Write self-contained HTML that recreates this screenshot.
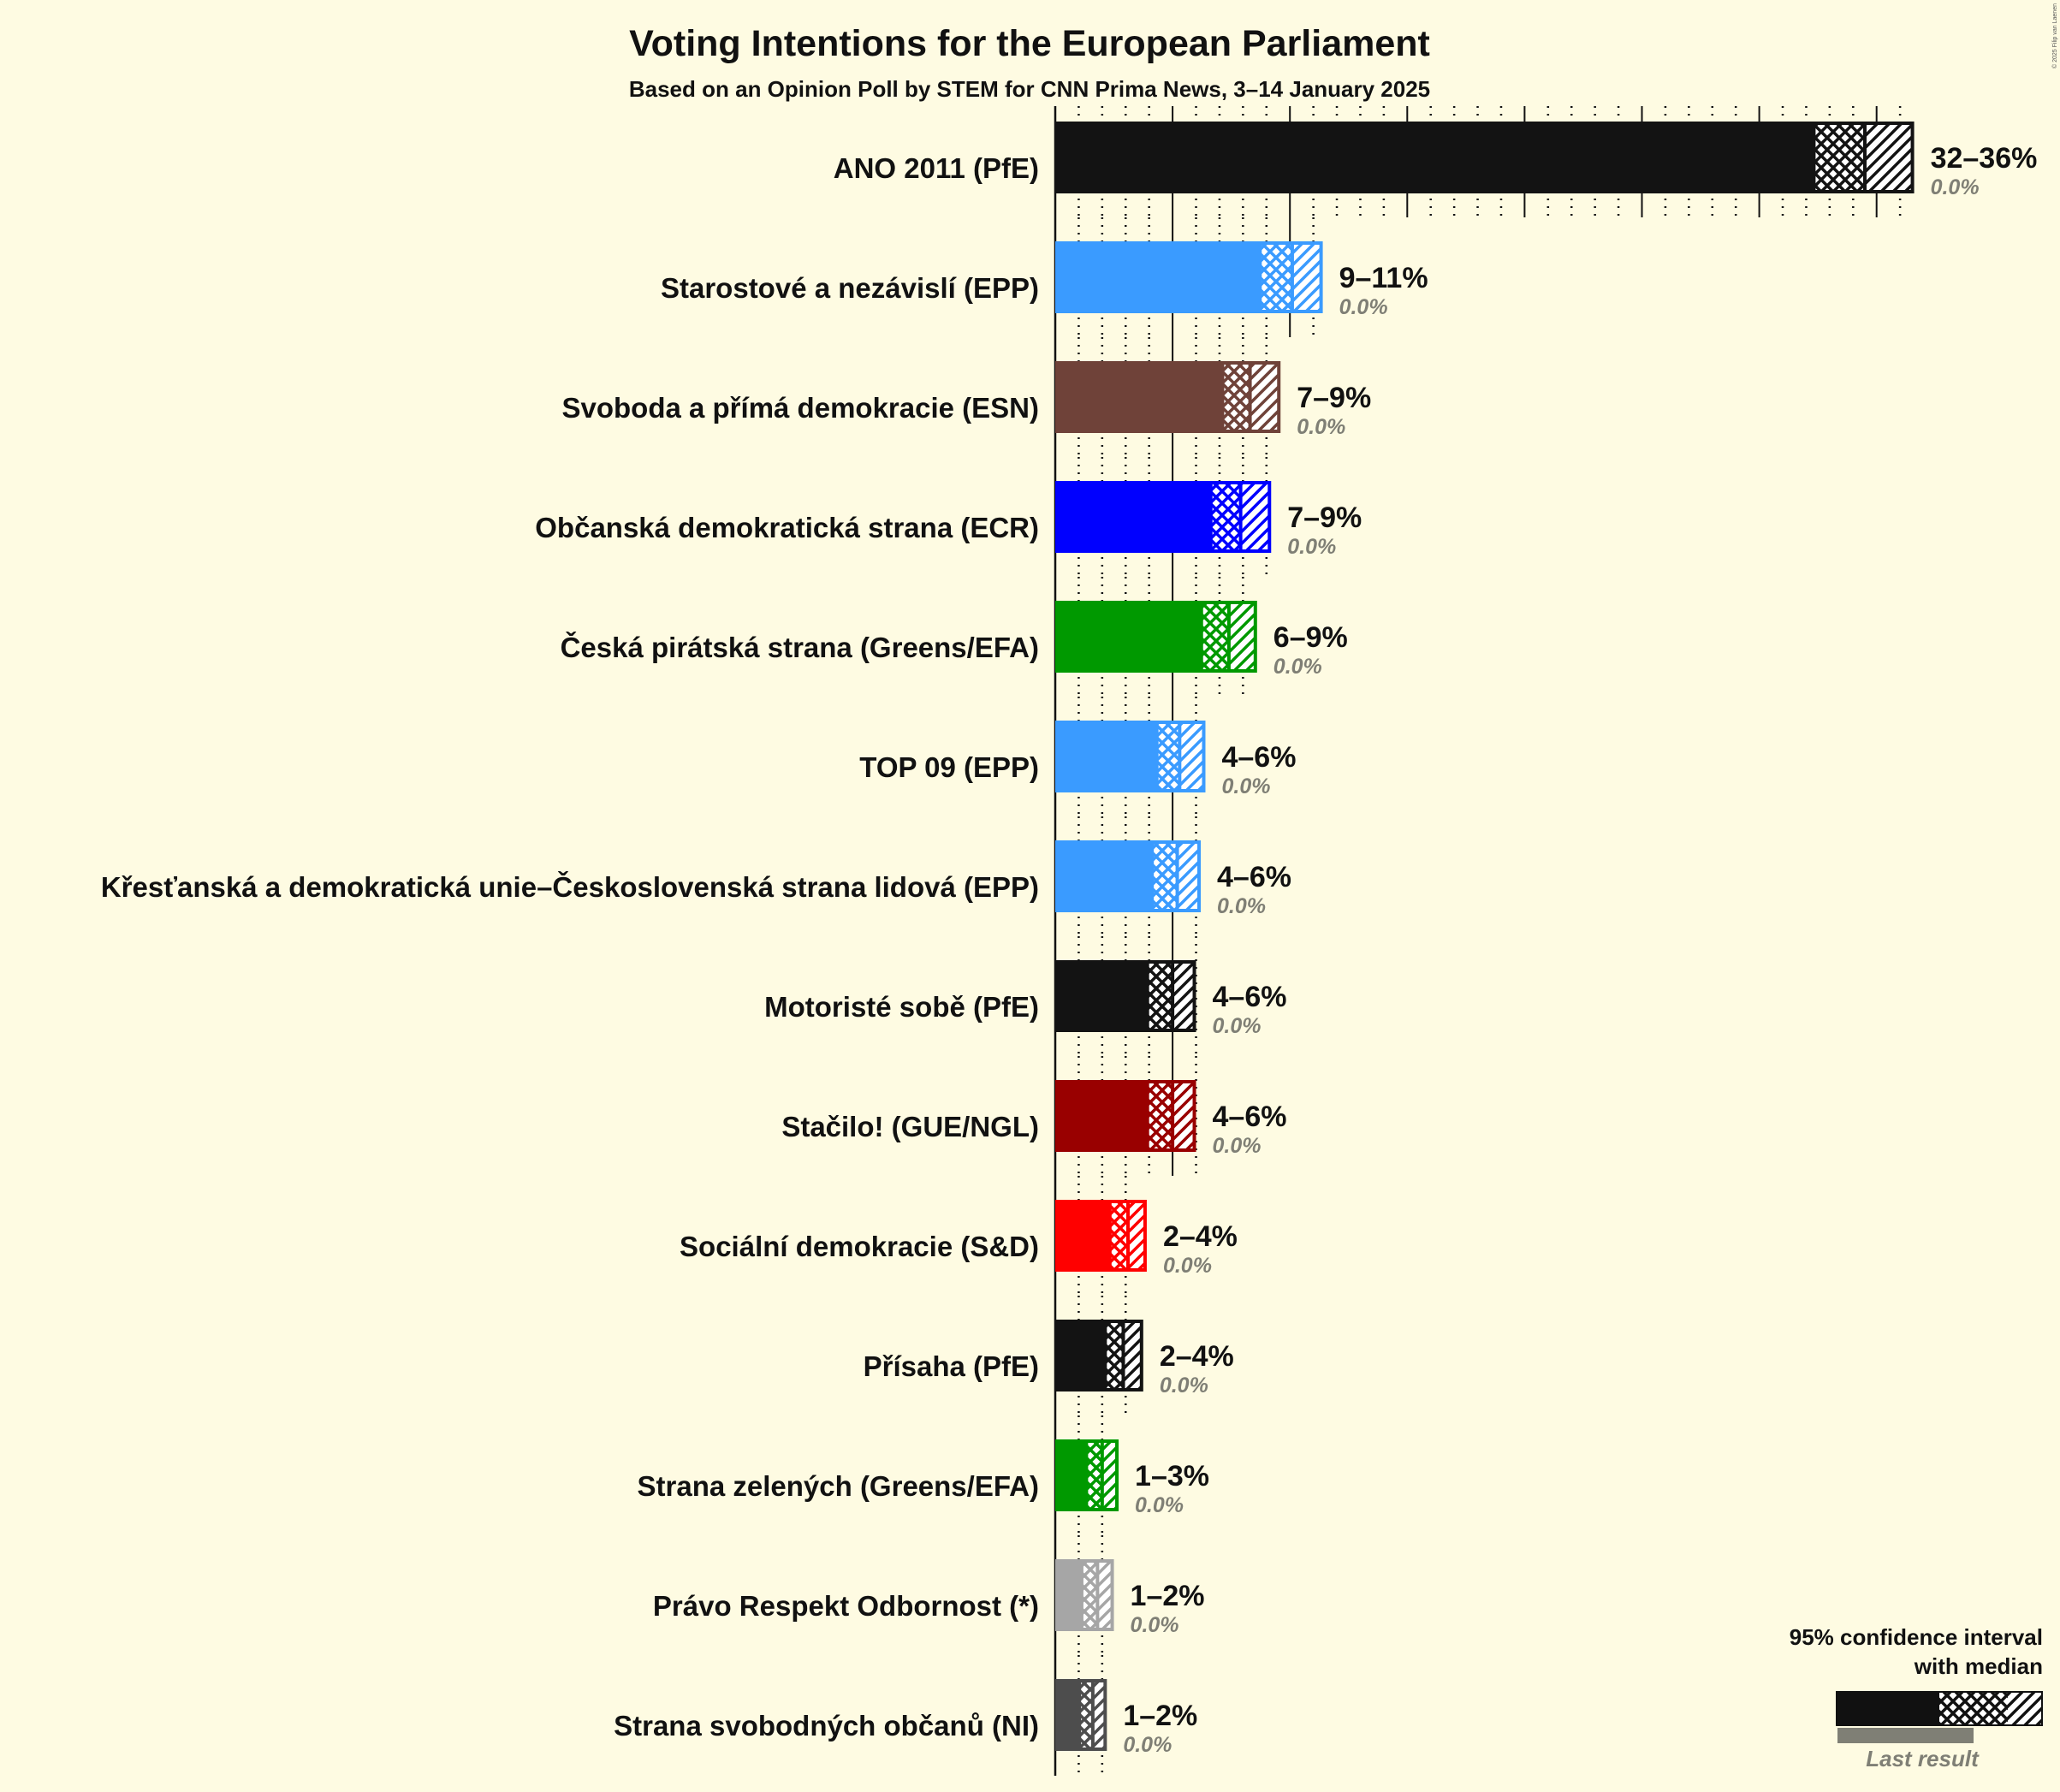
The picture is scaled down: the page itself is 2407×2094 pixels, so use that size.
<!DOCTYPE html>
<html><head><meta charset="utf-8"><style>
body{margin:0;background:#FEFBE2;}
svg{display:block;font-family:"Liberation Sans",sans-serif;}
</style></head><body>
<svg id="chart" width="2407" height="2094" viewBox="0 0 2407 2094" xmlns="http://www.w3.org/2000/svg">
<rect width="2407" height="2094" fill="#FEFBE2"/>
<defs id="defs"></defs>
<text x="1203" y="65" text-anchor="middle" font-size="43" font-weight="bold" fill="#111">Voting Intentions for the European Parliament</text>
<text x="1203" y="113" text-anchor="middle" font-size="26" font-weight="bold" fill="#111">Based on an Opinion Poll by STEM for CNN Prima News, 3–14 January 2025</text>
<text x="2403" y="4" transform="rotate(-90 2403 4)" text-anchor="end" font-size="7" fill="#555">© 2025 Filip van Laenen</text>
<g id="grid"></g>
<g id="bars"></g>
<g>
<text x="2387" y="1922" text-anchor="end" font-size="26" font-weight="bold" fill="#111">95% confidence interval</text>
<text x="2387" y="1956" text-anchor="end" font-size="26" font-weight="bold" fill="#111">with median</text>
<rect x="2147" y="2019" width="159" height="18" fill="#7F7F75"/>
<rect x="2145" y="1976" width="242" height="41" fill="#111"/>
<rect x="2266" y="1978" width="80" height="37" fill="url(#cross-111)"/>
<rect x="2346" y="1978" width="39" height="37" fill="url(#diag-111)"/>
<text x="2246" y="2064" text-anchor="middle" font-size="26" font-style="italic" font-weight="bold" fill="#7F7F75">Last result</text>
</g>
</svg>
<script>
const parties = ["ANO 2011 (PfE)","Starostové a nezávislí (EPP)","Svoboda a přímá demokracie (ESN)","Občanská demokratická strana (ECR)","Česká pirátská strana (Greens/EFA)","TOP 09 (EPP)","Křesťanská a demokratická unie–Československá strana lidová (EPP)","Motoristé sobě (PfE)","Stačilo! (GUE/NGL)","Sociální demokracie (S&D)","Přísaha (PfE)","Strana zelených (Greens/EFA)","Právo Respekt Odbornost (*)","Strana svobodných občanů (NI)"];
const lowValues = [32.4,8.8,7.2,6.7,6.3,4.4,4.2,4.0,4.0,2.4,2.2,1.4,1.2,1.1];
const medianValues = [34.5,10.1,8.3,7.9,7.4,5.3,5.2,5.0,5.0,3.1,2.9,2.0,1.8,1.6];
const highValues = [36.6,11.4,9.6,9.2,8.6,6.4,6.2,6.0,6.0,3.9,3.75,2.7,2.5,2.2];
const rangeLabels = ["32–36%","9–11%","7–9%","7–9%","6–9%","4–6%","4–6%","4–6%","4–6%","2–4%","2–4%","1–3%","1–2%","1–2%"];
const lastResults = ["0.0%","0.0%","0.0%","0.0%","0.0%","0.0%","0.0%","0.0%","0.0%","0.0%","0.0%","0.0%","0.0%","0.0%"];
const colors = ["#131313","#3A9BFF","#6F4239","#0000FF","#009900","#3A9BFF","#3A9BFF","#131313","#990000","#FF0000","#131313","#009900","#A6A6A6","#4D4D4D"];

const NS="http://www.w3.org/2000/svg";
const X0=1233, PX=27.42, ROW0=142, STEP=140, BH=84;
const x=v=>X0+v*PX;
const rowTop=i=>ROW0+i*STEP;
const defs=document.getElementById('defs');
const grid=document.getElementById('grid');
const bars=document.getElementById('bars');
function mk(tag,attrs,parent){const e=document.createElementNS(NS,tag);for(const k in attrs)e.setAttribute(k,attrs[k]);parent.appendChild(e);return e;}
const made={};
function patterns(c){const id=c.replace('#','');if(made[id])return id;made[id]=1;
 let p=mk('pattern',{id:'cross-'+id,patternUnits:'userSpaceOnUse',width:14,height:14},defs);
 mk('rect',{width:14,height:14,fill:'#fff'},p);
 mk('path',{d:'M-2,-2 L16,16 M-2,16 L16,-2 M-9,5 L5,19 M9,-5 L19,5 M5,-5 L-9,9 M19,9 L9,19',stroke:c,'stroke-width':3.5},p);
 p=mk('pattern',{id:'diag-'+id,patternUnits:'userSpaceOnUse',width:14,height:14},defs);
 mk('rect',{width:14,height:14,fill:'#fff'},p);
 mk('path',{d:'M-2,16 L16,-2 M-9,9 L9,-9 M5,23 L23,5',stroke:c,'stroke-width':3.5},p);
 return id;}
patterns('#111');
const n=parties.length;
for(let i=0;i<n;i++){
 const y1=rowTop(i)-(i==0?18:28), y2=rowTop(i)+BH+28;
 for(let v=1;v<=Math.floor(highValues[i]);v++){
  const l=mk('line',{x1:x(v),x2:x(v),y1:y1,y2:y2,stroke:'#111','stroke-width':v%5==0?2:2.5,'stroke-dasharray':v%5==0?'none':'2,7'},grid);
  
  
 }
}
const ax=mk('line',{x1:X0,x2:X0,y1:142-18,y2:2075,stroke:'#111','stroke-width':2.5},grid);


for(let i=0;i<n;i++){
 const c=colors[i], id=patterns(c), t=rowTop(i), cy=t+BH/2;
 const g=mk('g',{},bars);
 
 
 const b=mk('rect',{x:X0,y:t,width:x(highValues[i])-X0,height:BH,fill:c},g);
 
 
 const cr=mk('rect',{x:x(lowValues[i]),y:t+4,width:x(medianValues[i])-x(lowValues[i]),height:BH-8,fill:'url(#cross-'+id+')'},g);
 
 
 const dg=mk('rect',{x:x(medianValues[i]),y:t+4,width:x(highValues[i])-x(medianValues[i])-4,height:BH-8,fill:'url(#diag-'+id+')'},g);
 
 
 const md=mk('line',{x1:x(medianValues[i]),x2:x(medianValues[i]),y1:t,y2:t+BH,stroke:c,'stroke-width':4},g);
 
 
 const lb=mk('text',{x:1214,y:cy+24,'text-anchor':'end','font-size':33,'font-weight':'bold',fill:'#111'},g);
 lb.textContent=parties[i];
 
 
 const rl=mk('text',{x:x(highValues[i])+19,y:cy+12,'font-size':34,'font-weight':'bold',fill:'#111'},g);
 rl.textContent=rangeLabels[i];
 
 
 const lr=mk('text',{x:x(highValues[i])+19,y:cy+43,'font-size':25,'font-style':'italic','font-weight':'bold',fill:'#7F7F75'},g);
 lr.textContent=lastResults[i];
 
 
}
</script>
</body></html>
